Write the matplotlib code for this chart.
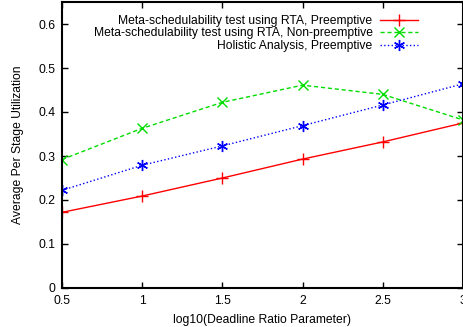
import numpy as np
import matplotlib.pyplot as plt

plt.rcParams['font.family'] = ['Liberation Sans', 'DejaVu Sans']

x = [0.5, 1.0, 1.5, 2.0, 2.5, 3.0]
rta_pre = [0.172, 0.209, 0.250, 0.293, 0.332, 0.375]
rta_nonpre = [0.292, 0.363, 0.422, 0.461, 0.440, 0.382]
holistic = [0.222, 0.279, 0.323, 0.369, 0.416, 0.464]

fig = plt.figure(figsize=(4.64, 3.27), dpi=100)
ax = fig.add_axes([62/464, 1-288/327, 401/464, 286/327])

ax.plot(x, rta_pre, '-', color='#ff0000', lw=1, marker='+', ms=8, mew=1,
        label='Meta-schedulability test using RTA, Preemptive')
ax.plot(x, rta_nonpre, '--', color='#00dd00', lw=1, marker='x', ms=7, mew=1,
        dashes=(3, 2), label='Meta-schedulability test using RTA, Non-preemptive')
ax.plot(x, holistic, ':', color='#0000ff', lw=1, marker=(6, 2, 0), ms=8, mew=1,
        label='Holistic Analysis, Preemptive')

ax.set_xlim(0.5, 3)
ax.set_ylim(0, 0.65)
ax.set_xticks([0.5, 1, 1.5, 2, 2.5, 3])
ax.set_xticklabels(['0.5', '1', '1.5', '2', '2.5', '3'])
ax.set_yticks([0, 0.1, 0.2, 0.3, 0.4, 0.5, 0.6])
ax.set_yticklabels(['0', '0.1', '0.2', '0.3', '0.4', '0.5', '0.6'])
ax.tick_params(direction='in', top=True, right=True, length=4, width=1, labelsize=8.7, pad=5)
for s in ax.spines.values():
    s.set_linewidth(1.5)

ax.set_xlabel('log10(Deadline Ratio Parameter)', fontsize=8.7, labelpad=5)
ax.set_ylabel('Average Per Stage Utilization', fontsize=8.7, labelpad=10)

ax.legend(loc='upper right', bbox_to_anchor=(0.91, 0.985), frameon=False, markerfirst=False,
          fontsize=8.7, handlelength=3.2, labelspacing=0.05, handletextpad=0.6, borderpad=0.2)

fig.savefig('out.png', dpi=100)
